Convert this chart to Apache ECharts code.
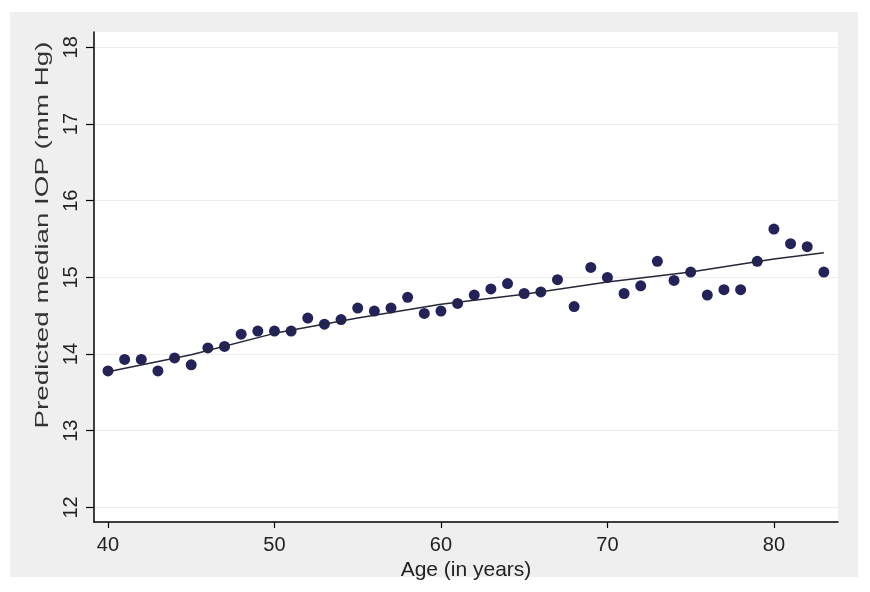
<!DOCTYPE html>
<html>
<head>
<meta charset="utf-8">
<script src="https://cdn.jsdelivr.net/npm/echarts@6/dist/echarts.min.js"></script>
<style>
  html, body { margin: 0; padding: 0; background: #ffffff; }
  #wrap { position: relative; width: 870px; height: 592px; background: #ffffff; }
  #panel { position: absolute; left: 10px; top: 12px; width: 848px; height: 565px; background: #efefef; }
  #chart { position: absolute; left: 0; top: 0; width: 870px; height: 592px; }
</style>
</head>
<body>
<div id="wrap">
  <div id="panel"></div>
  <div id="chart"></div>
</div>
<script>
// Observed predicted median IOP by age
const ages = [40, 41, 42, 43, 44, 45, 46, 47, 48, 49, 50, 51, 52, 53, 54, 55, 56, 57, 58, 59, 60, 61,
              62, 63, 64, 65, 66, 67, 68, 69, 70, 71, 72, 73, 74, 75, 76, 77, 78, 79, 80, 81, 82, 83];
const iop = [13.78, 13.93, 13.93, 13.78, 13.95, 13.86, 14.08, 14.10, 14.26, 14.30, 14.30, 14.30,
             14.47, 14.39, 14.45, 14.60, 14.56, 14.60, 14.74, 14.53, 14.56, 14.66, 14.77, 14.85,
             14.92, 14.79, 14.81, 14.97, 14.62, 15.13, 15.00, 14.79, 14.89, 15.21, 14.96, 15.07,
             14.77, 14.84, 14.84, 15.21, 15.63, 15.44, 15.40, 15.07];
// Fitted curve
const fitAges = [40, 45, 50, 55, 60, 65, 70, 75, 80, 83];
const fitIOP = [13.77, 13.99, 14.27, 14.47, 14.65, 14.78, 14.94, 15.07, 15.24, 15.32];
// Tick labels
const xTicks = [40, 50, 60, 70, 80];
const yTicks = [12, 13, 14, 15, 16, 17, 18];

const xTitle = 'Age (in years)';
const yTitle = 'Predicted median IOP (mm Hg)';

const chart = echarts.init(document.getElementById('chart'), null, { renderer: 'canvas' });
const font = 'Liberation Sans, Arial, sans-serif';

chart.setOption({
  backgroundColor: 'transparent',
  animation: false,
  grid: {
    left: 94, right: 32, top: 32, bottom: 70,
    show: true, backgroundColor: '#ffffff', borderWidth: 0
  },
  xAxis: {
    type: 'value',
    min: 39.16, max: 83.85,
    name: xTitle,
    nameLocation: 'middle',
    nameGap: 30,
    nameTextStyle: { fontFamily: font, fontSize: 21, color: '#222' },
    axisLine: { show: true, onZero: false, lineStyle: { color: '#000', width: 1.5 } },
    axisTick: { show: true, length: 6, customValues: xTicks, lineStyle: { color: '#000', width: 1.2 } },
    axisLabel: { customValues: xTicks, margin: 13, fontFamily: font, fontSize: 20, color: '#222' },
    splitLine: { show: false }
  },
  yAxis: {
    type: 'value',
    min: 11.81, max: 18.2,
    axisLine: { show: true, onZero: false, lineStyle: { color: '#000', width: 1.5 } },
    axisTick: { show: true, length: 8, customValues: yTicks, lineStyle: { color: '#000', width: 1.2 } },
    axisLabel: { customValues: yTicks, rotate: 90, margin: 13,
                 fontFamily: 'Liberation Sans Narrow, ' + font, fontSize: 20, color: '#222' },
    splitLine: { show: true, lineStyle: { color: '#ececec', width: 1 } }
  },
  graphic: [{
    type: 'text',
    x: 43, y: 235,
    rotation: Math.PI / 2,
    scaleX: 1.46,
    style: {
      text: yTitle,
      fontFamily: font, fontSize: 19, fill: '#333',
      align: 'center', verticalAlign: 'middle'
    }
  }],
  series: [
    {
      type: 'scatter',
      data: ages.map((a, i) => [a, iop[i]]),
      symbol: 'circle',
      symbolSize: 11,
      itemStyle: { color: '#23235a', opacity: 1 },
      z: 3
    },
    {
      type: 'line',
      data: fitAges.map((a, i) => [a, fitIOP[i]]),
      showSymbol: false,
      symbol: 'none',
      lineStyle: { color: '#26263a', width: 1.5 },
      z: 4
    }
  ]
});
</script>
</body>
</html>
